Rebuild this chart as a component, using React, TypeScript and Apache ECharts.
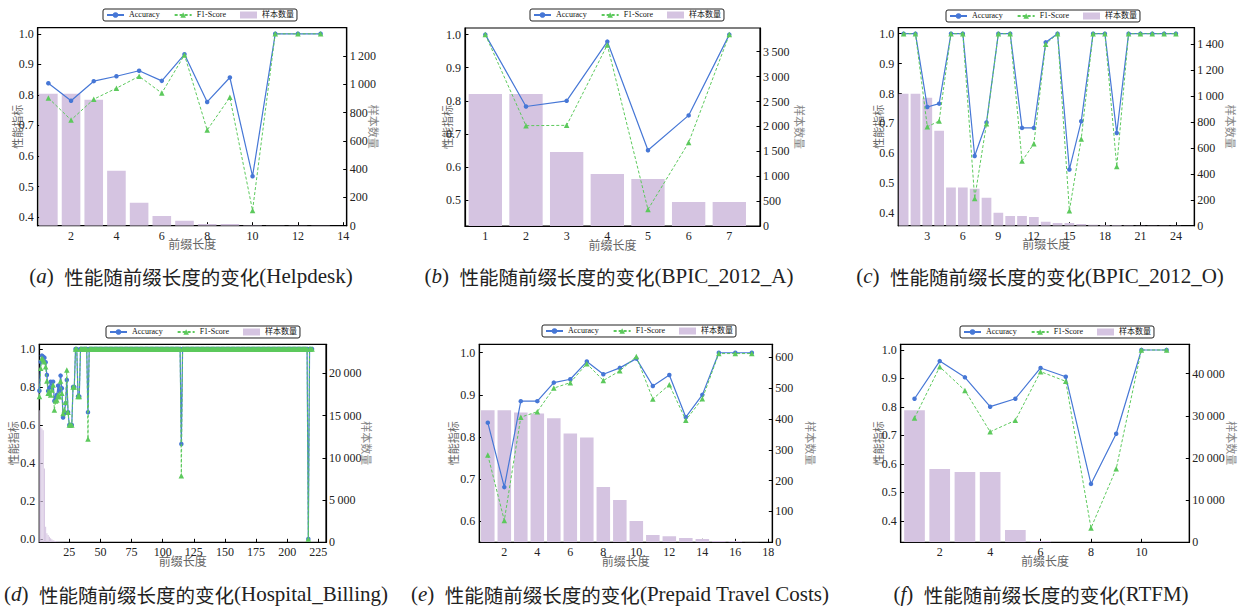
import React, { useEffect, useRef } from 'react';
import * as echarts from 'echarts';

// ---------------- data ----------------
// (a) Helpdesk
const helpdeskLen = [1, 2, 3, 4, 5, 6, 7, 8, 9, 10, 11, 12, 13];
const helpdeskAcc = [0.838, 0.781, 0.845, 0.861, 0.879, 0.846, 0.933, 0.777, 0.857, 0.534, 1.0, 1.0, 1.0];
const helpdeskF1 = [0.79, 0.718, 0.786, 0.822, 0.861, 0.806, 0.931, 0.685, 0.792, 0.422, 1.0, 1.0, 1.0];
const helpdeskSamples = [934, 934, 891, 388, 163, 69, 35, 12, 12, 3, 1, 1, 1];
const helpdeskXTicks = [2, 4, 6, 8, 10, 12, 14];
const helpdeskYTicks = [0.4, 0.5, 0.6, 0.7, 0.8, 0.9, 1.0];
const helpdeskRTicks = [0, 200, 400, 600, 800, 1000, 1200];

// (b) BPIC_2012_A
const bpicALen = [1, 2, 3, 4, 5, 6, 7];
const bpicAAcc = [1.0, 0.783, 0.8, 0.979, 0.651, 0.756, 1.0];
const bpicAF1 = [1.0, 0.725, 0.726, 0.969, 0.472, 0.674, 1.0];
const bpicASamples = [2651, 2651, 1486, 1044, 944, 482, 482];
const bpicAXTicks = [1, 2, 3, 4, 5, 6, 7];
const bpicAYTicks = [0.5, 0.6, 0.7, 0.8, 0.9, 1.0];
const bpicARTicks = [0, 500, 1000, 1500, 2000, 2500, 3000, 3500];

// (c) BPIC_2012_O
const bpicOLen = [1, 2, 3, 4, 5, 6, 7, 8, 9, 10, 11, 12, 13, 14, 15, 16, 17, 18, 19, 20, 21, 22, 23, 24];
const bpicOAcc = [1.0, 1.0, 0.755, 0.766, 1.0, 1.0, 0.591, 0.703, 1.0, 1.0, 0.685, 0.685, 0.971, 1.0, 0.546, 0.707, 1.0, 1.0, 0.668, 1.0, 1.0, 1.0, 1.0, 1.0];
const bpicOF1 = [1.0, 1.0, 0.689, 0.708, 1.0, 1.0, 0.449, 0.699, 1.0, 1.0, 0.574, 0.632, 0.965, 1.0, 0.408, 0.648, 1.0, 1.0, 0.556, 1.0, 1.0, 1.0, 1.0, 1.0];
const bpicOSamples = [1018, 1018, 987, 732, 294, 294, 284, 216, 100, 75, 75, 67, 31, 21, 21, 13, 8, 5, 5, 3, 2, 2, 2, 1];
const bpicOXTicks = [3, 6, 9, 12, 15, 18, 21, 24];
const bpicOYTicks = [0.4, 0.5, 0.6, 0.7, 0.8, 0.9, 1.0];
const bpicORTicks = [0, 200, 400, 600, 800, 1000, 1200, 1400];

// (d) Hospital_Billing
const hospitalLen = [
  1, 2, 3, 4, 5, 6, 7, 8, 9, 10, 11, 12, 13, 14, 15, 16, 17, 18, 19, 20,
  21, 22, 23, 24, 25, 26, 27, 28, 29, 30, 31, 32, 33, 34, 35, 36, 37, 38, 39, 40,
  41, 42, 43, 44, 45, 46, 47, 48, 49, 50, 51, 52, 53, 54, 55, 56, 57, 58, 59, 60,
  61, 62, 63, 64, 65, 66, 67, 68, 69, 70, 71, 72, 73, 74, 75, 76, 77, 78, 79, 80,
  81, 82, 83, 84, 85, 86, 87, 88, 89, 90, 91, 92, 93, 94, 95, 96, 97, 98, 99, 100,
  101, 102, 103, 104, 105, 106, 107, 108, 109, 110, 111, 112, 113, 114, 115, 116, 117, 118, 119, 120,
  121, 122, 123, 124, 125, 126, 127, 128, 129, 130, 131, 132, 133, 134, 135, 136, 137, 138, 139, 140,
  141, 142, 143, 144, 145, 146, 147, 148, 149, 150, 151, 152, 153, 154, 155, 156, 157, 158, 159, 160,
  161, 162, 163, 164, 165, 166, 167, 168, 169, 170, 171, 172, 173, 174, 175, 176, 177, 178, 179, 180,
  181, 182, 183, 184, 185, 186, 187, 188, 189, 190, 191, 192, 193, 194, 195, 196, 197, 198, 199, 200,
  201, 202, 203, 204, 205, 206, 207, 208, 209, 210, 211, 212, 213, 214, 215, 216, 217, 218, 219, 220,
];
const hospitalAcc = [
  0.78, 0.933, 0.965, 0.96, 0.954, 0.93, 0.863, 0.779, 0.796, 0.828, 0.8, 0.828, 0.726, 0.744, 0.758, 0.807, 0.779, 0.86, 0.793, 0.639,
  0.661, 0.714, 0.837, 0.667, 0.6, 0.6, 0.6, 0.8, 0.8, 1, 1, 0.75, 0.75, 1, 1, 1, 1, 1, 1, 0.667,
  1, 1, 1, 1, 1, 1, 1, 1, 1, 1, 1, 1, 1, 1, 1, 1, 1, 1, 1, 1,
  1, 1, 1, 1, 1, 1, 1, 1, 1, 1, 1, 1, 1, 1, 1, 1, 1, 1, 1, 1,
  1, 1, 1, 1, 1, 1, 1, 1, 1, 1, 1, 1, 1, 1, 1, 1, 1, 1, 1, 1,
  1, 1, 1, 1, 1, 1, 1, 1, 1, 1, 1, 1, 1, 1, 0.5, 1, 1, 1, 1, 1,
  1, 1, 1, 1, 1, 1, 1, 1, 1, 1, 1, 1, 1, 1, 1, 1, 1, 1, 1, 1,
  1, 1, 1, 1, 1, 1, 1, 1, 1, 1, 1, 1, 1, 1, 1, 1, 1, 1, 1, 1,
  1, 1, 1, 1, 1, 1, 1, 1, 1, 1, 1, 1, 1, 1, 1, 1, 1, 1, 1, 1,
  1, 1, 1, 1, 1, 1, 1, 1, 1, 1, 1, 1, 1, 1, 1, 1, 1, 1, 1, 1,
  1, 1, 1, 1, 1, 1, 1, 1, 1, 1, 1, 1, 1, 1, 1, 1, 0, 1, 1, 1,
];
const hospitalF1 = [
  0.75, 0.898, 0.951, 0.942, 0.933, 0.907, 0.832, 0.767, 0.775, 0.758, 0.784, 0.81, 0.679, 0.726, 0.732, 0.758, 0.749, 0.832, 0.767, 0.661,
  0.679, 0.719, 0.889, 0.667, 0.6, 0.6, 0.6, 0.8, 0.8, 1, 1, 0.75, 0.75, 1, 1, 1, 1, 1, 1, 0.526,
  1, 1, 1, 1, 1, 1, 1, 1, 1, 1, 1, 1, 1, 1, 1, 1, 1, 1, 1, 1,
  1, 1, 1, 1, 1, 1, 1, 1, 1, 1, 1, 1, 1, 1, 1, 1, 1, 1, 1, 1,
  1, 1, 1, 1, 1, 1, 1, 1, 1, 1, 1, 1, 1, 1, 1, 1, 1, 1, 1, 1,
  1, 1, 1, 1, 1, 1, 1, 1, 1, 1, 1, 1, 1, 1, 0.333, 1, 1, 1, 1, 1,
  1, 1, 1, 1, 1, 1, 1, 1, 1, 1, 1, 1, 1, 1, 1, 1, 1, 1, 1, 1,
  1, 1, 1, 1, 1, 1, 1, 1, 1, 1, 1, 1, 1, 1, 1, 1, 1, 1, 1, 1,
  1, 1, 1, 1, 1, 1, 1, 1, 1, 1, 1, 1, 1, 1, 1, 1, 1, 1, 1, 1,
  1, 1, 1, 1, 1, 1, 1, 1, 1, 1, 1, 1, 1, 1, 1, 1, 1, 1, 1, 1,
  1, 1, 1, 1, 1, 1, 1, 1, 1, 1, 1, 1, 1, 1, 1, 1, 0, 1, 1, 1,
];
const hospitalSamples = [15630, 13661, 13465, 13268, 8740, 1850, 1063, 866, 670, 472, 354, 236, 197, 157, 120, 90, 70, 50, 40, 30];
const hospitalXTicks = [25, 50, 75, 100, 125, 150, 175, 200, 225];
const hospitalYTicks = [0.0, 0.2, 0.4, 0.6, 0.8, 1.0];
const hospitalRTicks = [0, 5000, 10000, 15000, 20000];

// (e) Prepaid Travel Costs
const prepaidLen = [1, 2, 3, 4, 5, 6, 7, 8, 9, 10, 11, 12, 13, 14, 15, 16, 17];
const prepaidAcc = [0.834, 0.681, 0.885, 0.885, 0.929, 0.937, 0.979, 0.949, 0.964, 0.986, 0.921, 0.947, 0.847, 0.9, 1.0, 1.0, 1.0];
const prepaidF1 = [0.757, 0.602, 0.847, 0.86, 0.916, 0.929, 0.974, 0.934, 0.957, 0.991, 0.89, 0.924, 0.84, 0.891, 0.998, 0.998, 0.998];
const prepaidSamples = [428, 428, 421, 418, 402, 353, 340, 179, 137, 69, 24, 20, 14, 11, 4, 4, 1];
const prepaidXTicks = [2, 4, 6, 8, 10, 12, 14, 16, 18];
const prepaidYTicks = [0.6, 0.7, 0.8, 0.9, 1.0];
const prepaidRTicks = [0, 100, 200, 300, 400, 500, 600];

// (f) RTFM
const rtfmLen = [1, 2, 3, 4, 5, 6, 7, 8, 9, 10, 11];
const rtfmAcc = [0.829, 0.961, 0.904, 0.801, 0.829, 0.937, 0.906, 0.53, 0.706, 1.0, 1.0];
const rtfmF1 = [0.761, 0.941, 0.858, 0.713, 0.753, 0.924, 0.89, 0.375, 0.583, 1.0, 1.0];
const rtfmSamples = [31300, 17357, 16647, 16647, 2919, 316, 40, 15, 10, 5, 3];
const rtfmXTicks = [2, 4, 6, 8, 10];
const rtfmYTicks = [0.4, 0.5, 0.6, 0.7, 0.8, 0.9, 1.0];
const rtfmRTicks = [0, 10000, 20000, 30000, 40000];

const SERIES_NAMES = ['Accuracy', 'F1-Score', '样本数量'];
const AXIS_X_NAME = '前缀长度';
const AXIS_Y_NAME = '性能指标';
const AXIS_R_NAME = '样本数量';
const CAPTION_MIDDLE = '性能随前缀长度的变化';

// ---------------- style / layout ----------------
const BLUE = '#4677d6';
const GREEN = '#5cc95c';
const BAR_COLOR = '#d5c4e1';
const BAR_W = 0.82;
const SERIF = 'Liberation Serif, Times New Roman, DejaVu Serif, serif';
const CJK = 'Noto Sans CJK SC, sans-serif';
const MIX = 'Liberation Serif, Noto Sans CJK SC, serif';

const panels = [
  {
    len: helpdeskLen, acc: helpdeskAcc, f1: helpdeskF1, samples: helpdeskSamples,
    xTicks: helpdeskXTicks, yTicks: helpdeskYTicks, rTicks: helpdeskRTicks,
    grid: [37.7, 27.7, 309, 198], xRange: [0.53, 14.15], yRange: [0.372, 1.02], rMax: 1401,
    legend: [103, 9], leftGap: 15, rightGap: 22,
    caption: { letter: 'a', name: 'Helpdesk', x: 191, y: 276, align: 'center' },
  },
  {
    len: bpicALen, acc: bpicAAcc, f1: bpicAF1, samples: bpicASamples,
    xTicks: bpicAXTicks, yTicks: bpicAYTicks, rTicks: bpicARTicks,
    grid: [465, 28, 295, 198], xRange: [0.5, 7.755], yRange: [0.422, 1.02], rMax: 3977,
    legend: [530, 9], leftGap: 13, rightGap: 35,
    caption: { letter: 'b', name: 'BPIC_2012_A', x: 609, y: 276, align: 'center' },
  },
  {
    len: bpicOLen, acc: bpicOAcc, f1: bpicOF1, samples: bpicOSamples,
    xTicks: bpicOXTicks, yTicks: bpicOYTicks, rTicks: bpicORTicks,
    grid: [898.3, 27.7, 296, 198], xRange: [0.55, 25.55], yRange: [0.358, 1.02], rMax: 1527,
    legend: [946, 10], leftGap: 15, rightGap: 31,
    caption: { letter: 'c', name: 'BPIC_2012_O', x: 1040, y: 276, align: 'center' },
  },
  {
    len: hospitalLen, acc: hospitalAcc, f1: hospitalF1, samples: hospitalSamples,
    xTicks: hospitalXTicks, yTicks: hospitalYTicks, rTicks: hospitalRTicks,
    grid: [39.3, 344.3, 286.7, 198], xRange: [0.9, 231.2], yRange: [-0.0175, 1.0246], rMax: 23445,
    legend: [106, 326], leftGap: 21, rightGap: 36,
    caption: { letter: 'd', name: 'Hospital_Billing', x: 388, y: 594, align: 'right' },
  },
  {
    len: prepaidLen, acc: prepaidAcc, f1: prepaidF1, samples: prepaidSamples,
    xTicks: prepaidXTicks, yTicks: prepaidYTicks, rTicks: prepaidRTicks,
    grid: [479.3, 344.3, 293, 198], xRange: [0.485, 18.24], yRange: [0.55, 1.02], rMax: 642,
    legend: [542, 325], leftGap: 21, rightGap: 33,
    caption: { letter: 'e', name: 'Prepaid Travel Costs', x: 620, y: 594, align: 'center' },
  },
  {
    len: rtfmLen, acc: rtfmAcc, f1: rtfmF1, samples: rtfmSamples,
    xTicks: rtfmXTicks, yTicks: rtfmYTicks, rTicks: rtfmRTicks,
    grid: [900.7, 344.3, 288.6, 198], xRange: [0.452, 11.9], yRange: [0.325, 1.02], rMax: 46950,
    legend: [960, 326], leftGap: 17, rightGap: 37,
    caption: { letter: 'f', name: 'RTFM', x: 1041, y: 594, align: 'center' },
  },
];

const fmtThousands = (v: number) => {
  const s = String(Math.round(v));
  return s.length > 3 ? s.slice(0, -3) + '\u2009' + s.slice(-3) : s;
};

const tickStyle = (values: number[]) => ({
  show: true,
  inside: true,
  length: 3.5,
  customValues: values,
  lineStyle: { color: '#000', width: 1 },
});

const axisLineStyle = { show: true, onZero: false, lineStyle: { color: '#000', width: 1.2 } };

function barRender(params: any, api: any) {
  const x = api.value(0);
  const v = api.value(1);
  const cs = params.coordSys;
  const a = api.coord([x - BAR_W / 2, 0]);
  const b = api.coord([x + BAR_W / 2, v]);
  const x0 = Math.max(a[0], cs.x);
  const x1 = Math.min(b[0], cs.x + cs.width);
  if (x1 <= x0) return { type: 'group', children: [] };
  const yTop = Math.max(b[1], cs.y);
  const yBot = a[1];
  return {
    type: 'rect',
    shape: { x: x0, y: yTop, width: x1 - x0, height: yBot - yTop },
    style: { fill: BAR_COLOR },
  };
}

function buildOption() {
  const grid: any[] = [];
  const xAxis: any[] = [];
  const yAxis: any[] = [];
  const series: any[] = [];
  const legend: any[] = [];
  const graphic: any[] = [];

  panels.forEach((p, i) => {
    grid.push({
      left: p.grid[0], top: p.grid[1], width: p.grid[2], height: p.grid[3],
      show: true, borderColor: '#000', borderWidth: 1.2, backgroundColor: 'transparent',
      containLabel: false,
    });
    xAxis.push({
      type: 'value', gridIndex: i, min: p.xRange[0], max: p.xRange[1],
      axisLine: axisLineStyle,
      axisTick: tickStyle(p.xTicks),
      axisLabel: {
        customValues: p.xTicks, margin: 4, fontSize: 12, color: '#222', fontFamily: SERIF,
        formatter: (v: number) => String(v),
      },
      splitLine: { show: false },
      name: AXIS_X_NAME, nameLocation: 'middle', nameGap: 12, nameMoveOverlap: false,
      nameTextStyle: { fontFamily: CJK, fontSize: 12, color: '#666' },
    });
    yAxis.push({
      type: 'value', gridIndex: i, position: 'left', min: p.yRange[0], max: p.yRange[1],
      axisLine: axisLineStyle,
      axisTick: tickStyle(p.yTicks),
      axisLabel: {
        customValues: p.yTicks, margin: 4, fontSize: 12, color: '#222', fontFamily: SERIF,
        formatter: (v: number) => v.toFixed(1),
      },
      splitLine: { show: false },
      name: AXIS_Y_NAME, nameLocation: 'middle', nameRotate: 90, nameGap: p.leftGap,
      nameMoveOverlap: false,
      nameTextStyle: { fontFamily: CJK, fontSize: 11, color: '#666' },
    });
    yAxis.push({
      type: 'value', gridIndex: i, position: 'right', min: 0, max: p.rMax,
      axisLine: axisLineStyle,
      axisTick: tickStyle(p.rTicks),
      axisLabel: {
        customValues: p.rTicks, margin: 3, fontSize: 12, color: '#222', fontFamily: SERIF,
        formatter: fmtThousands,
      },
      splitLine: { show: false },
      name: AXIS_R_NAME, nameLocation: 'middle', nameRotate: -90, nameGap: p.rightGap,
      nameMoveOverlap: false,
      nameTextStyle: { fontFamily: CJK, fontSize: 11, color: '#888' },
    });

    series.push({
      type: 'custom', name: SERIES_NAMES[2], xAxisIndex: i, yAxisIndex: 2 * i + 1,
      coordinateSystem: 'cartesian2d', renderItem: barRender,
      data: p.samples.map((v, j) => [p.len[j], v]),
      encode: { x: 0, y: 1 },
      itemStyle: { color: BAR_COLOR }, z: 1, clip: true,
    });
    series.push({
      type: 'line', name: SERIES_NAMES[0], xAxisIndex: i, yAxisIndex: 2 * i,
      data: p.len.map((x, j) => [x, p.acc[j]]),
      symbol: 'circle', symbolSize: 4.5, showSymbol: true, showAllSymbol: true,
      lineStyle: { color: BLUE, width: 1.2 }, itemStyle: { color: BLUE }, z: 3, clip: true,
    });
    series.push({
      type: 'line', name: SERIES_NAMES[1], xAxisIndex: i, yAxisIndex: 2 * i,
      data: p.len.map((x, j) => [x, p.f1[j]]),
      symbol: 'triangle', symbolSize: 5.5, showSymbol: true, showAllSymbol: true,
      lineStyle: { color: GREEN, width: 1, type: [3, 2] }, itemStyle: { color: GREEN }, z: 4, clip: true,
    });

    legend.push({
      left: p.legend[0], top: p.legend[1], orient: 'horizontal',
      itemWidth: 17, itemHeight: 7, itemGap: 14, padding: [2, 3],
      borderColor: '#222', borderWidth: 1, borderRadius: 2, backgroundColor: '#fff',
      selectedMode: false,
      textStyle: { fontSize: 8, fontFamily: MIX, color: '#111' },
      data: [
        { name: SERIES_NAMES[0] },
        { name: SERIES_NAMES[1] },
        { name: SERIES_NAMES[2], icon: 'rect' },
      ],
    });

    const c = p.caption;
    graphic.push({
      type: 'text', x: c.x, y: c.y, silent: true,
      style: {
        text: `{l|(}{i|${c.letter}}{l|)  }{c|${CAPTION_MIDDLE}}{l|(${c.name})}`,
        align: c.align, verticalAlign: 'middle',
        rich: {
          l: { fontFamily: SERIF, fontSize: 21, fill: '#222', color: '#222' },
          i: { fontFamily: SERIF, fontStyle: 'italic', fontSize: 21, fill: '#222', color: '#222' },
          c: { fontFamily: CJK, fontSize: 19.5, fill: '#222', color: '#222' },
        },
      },
    });
  });

  return {
    animation: false,
    backgroundColor: '#fff',
    textStyle: { fontFamily: MIX },
    grid, xAxis, yAxis, series, legend, graphic,
  };
}

export default function App() {
  const ref = useRef<HTMLDivElement>(null);
  useEffect(() => {
    if (!ref.current) return;
    const chart = echarts.init(ref.current, undefined, { renderer: 'svg' });
    chart.setOption(buildOption() as any);
    return () => chart.dispose();
  }, []);
  return (
    <div
      ref={ref}
      style={{ position: 'fixed', left: 0, top: 0, width: 1241, height: 606, background: '#fff' }}
    />
  );
}
